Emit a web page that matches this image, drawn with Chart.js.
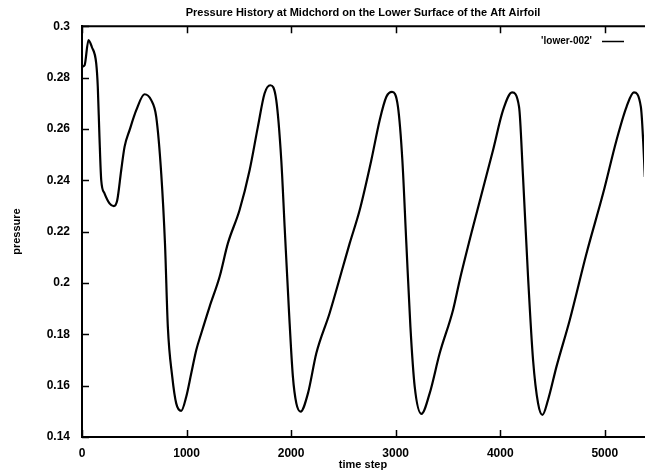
<!DOCTYPE html>
<html lang="en">
  <head>
    <meta charset="utf-8" />
    <title>Pressure History</title>
    <style>
      html, body { margin: 0; padding: 0; background: #fff; }
      canvas { display: block; }
    </style>
  </head>
  <body>
    <canvas id="chart" width="645" height="474"></canvas>

    <script src="https://cdn.jsdelivr.net/npm/chart.js@4/dist/chart.umd.min.js"></script>

    <script>
      // values
      const steps = [
        0, 25, 62, 94, 136, 151, 167, 184, 215, 263, 304, 337, 375, 407, 455, 519, 598,
        662, 710, 758, 794, 821, 863, 901, 949, 997, 1045, 1093, 1141, 1220, 1316, 1395,
        1507, 1603, 1682, 1746, 1801, 1858, 1906, 1938, 1979, 2017, 2050, 2091, 2161, 2241,
        2368, 2496, 2560, 2656, 2767, 2847, 2911, 2965, 3022, 3064, 3102, 3141, 3182, 3246,
        3325, 3421, 3548, 3612, 3740, 3931, 4027, 4113, 4180, 4218, 4266, 4314, 4362, 4404,
        4457, 4538, 4665, 4825, 4984, 5112, 5208, 5278, 5345, 5383, 5420
      ];
      const pressure = [
        0.2842, 0.2848, 0.2946, 0.2919, 0.2855, 0.2764, 0.2569, 0.2400, 0.2349, 0.2310, 0.2299, 0.2322, 0.2439, 0.2530, 0.2595, 0.2673, 0.2735,
        0.2712, 0.2647, 0.2425, 0.2150, 0.1829, 0.1635, 0.1531, 0.1502, 0.1557, 0.1648, 0.1739, 0.1804, 0.1907, 0.2024, 0.2154,
        0.2284, 0.2439, 0.2608, 0.2738, 0.2770, 0.2712, 0.2478, 0.2219, 0.1894, 0.1635, 0.1531, 0.1499, 0.1570, 0.1726,
        0.1882, 0.2063, 0.2154, 0.2284, 0.2478, 0.2634, 0.2725, 0.2744, 0.2686, 0.2478, 0.2154, 0.1829, 0.1596, 0.1490,
        0.1570, 0.1726, 0.1894, 0.2010, 0.2219, 0.2517, 0.2673, 0.2742, 0.2686, 0.2413, 0.2024, 0.1700, 0.1531, 0.1486,
        0.1544, 0.1674, 0.1856, 0.2115, 0.2349, 0.2556, 0.2686, 0.2742, 0.2686, 0.2413, 0.2024
      ];
      const xTickValues = [0, 1000, 2000, 3000, 4000, 5000];
      const yTickValues = [0.14, 0.16, 0.18, 0.2, 0.22, 0.24, 0.26, 0.28, 0.3];
      const seriesLabel = "'lower-002'";
      const titleText = 'Pressure History at Midchord on the Lower Surface of the Aft Airfoil';

      const fontFamily = '"Liberation Sans", Arial, Helvetica, sans-serif';

      // gnuplot style frame: top border, inward ticks, key in the corner
      const gnuplotFrame = {
        id: 'gnuplotFrame',
        afterDatasetsDraw(chart) {
          const { ctx, chartArea: a, scales: { x, y } } = chart;
          ctx.save();
          ctx.strokeStyle = '#000';
          ctx.lineWidth = 2;
          ctx.beginPath();
          ctx.moveTo(a.left, a.top);
          ctx.lineTo(a.right + 2, a.top);
          ctx.stroke();

          ctx.lineWidth = 1.5;
          ctx.beginPath();
          x.ticks.forEach(t => {
            const px = Math.round(x.getPixelForValue(t.value)) + 0.5;
            ctx.moveTo(px, a.bottom);
            ctx.lineTo(px, a.bottom - 7);
            ctx.moveTo(px, a.top);
            ctx.lineTo(px, a.top + 7);
          });
          y.ticks.forEach(t => {
            const py = Math.round(y.getPixelForValue(t.value)) + 0.5;
            ctx.moveTo(a.left, py);
            ctx.lineTo(a.left + 7, py);
          });
          ctx.stroke();

          // key
          const ds = chart.data.datasets[0];
          ctx.font = 'bold 10px ' + fontFamily;
          ctx.fillStyle = '#000';
          ctx.textAlign = 'right';
          ctx.textBaseline = 'middle';
          ctx.fillText(ds.label, 592, 41);
          ctx.lineWidth = 1.5;
          ctx.beginPath();
          ctx.moveTo(602, 41.5);
          ctx.lineTo(624, 41.5);
          ctx.stroke();
          ctx.restore();
        }
      };

      Chart.defaults.font.family = fontFamily;
      Chart.defaults.color = '#000';

      const config = {
        type: 'line',
        data: {
          datasets: [{
            label: seriesLabel,
            data: steps.map((s, i) => ({ x: s, y: pressure[i] })),
            borderColor: '#000',
            borderWidth: 2.2,
            pointRadius: 0,
            cubicInterpolationMode: 'monotone',
            fill: false
          }]
        },
        options: {
          responsive: false,
          animation: false,
          devicePixelRatio: 1,
          layout: { padding: { top: 0, left: 0, right: 1, bottom: 0 } },
          plugins: {
            legend: { display: false },
            tooltip: { enabled: false },
            title: {
              display: true,
              text: titleText,
              fullSize: false,
              color: '#000',
              font: { size: 11, weight: 'bold' },
              padding: { top: 6, bottom: 7 }
            }
          },
          scales: {
            x: {
              type: 'linear',
              min: 0,
              max: 5375,
              afterBuildTicks: s => { s.ticks = xTickValues.map(v => ({ value: v })); },
              afterFit: s => { s.height = 37; },
              border: { display: true, color: '#000', width: 2 },
              grid: { display: false, drawTicks: false },
              ticks: {
                maxRotation: 0,
                autoSkip: false,
                padding: 9,
                font: { size: 12, weight: 'bold' },
                color: '#000',
                callback: v => String(v)
              },
              title: {
                display: true,
                text: 'time step',
                color: '#000',
                font: { size: 11, weight: 'bold' },
                padding: { top: 0, bottom: 2 }
              }
            },
            y: {
              min: 0.14,
              max: 0.3,
              afterBuildTicks: s => { s.ticks = yTickValues.map(v => ({ value: v })); },
              afterFit: s => { s.width = 82; },
              border: { display: true, color: '#000', width: 2 },
              grid: { display: false, drawTicks: false },
              ticks: {
                autoSkip: false,
                padding: 12,
                font: { size: 12, weight: 'bold' },
                color: '#000',
                callback: v => String(parseFloat(v.toFixed(2)))
              },
              title: {
                display: true,
                text: 'pressure',
                color: '#000',
                font: { size: 11, weight: 'bold' },
                padding: { top: 10, bottom: 0 }
              }
            }
          }
        },
        plugins: [gnuplotFrame]
      };

      new Chart(document.getElementById('chart'), config);
    </script>
  </body>
</html>
